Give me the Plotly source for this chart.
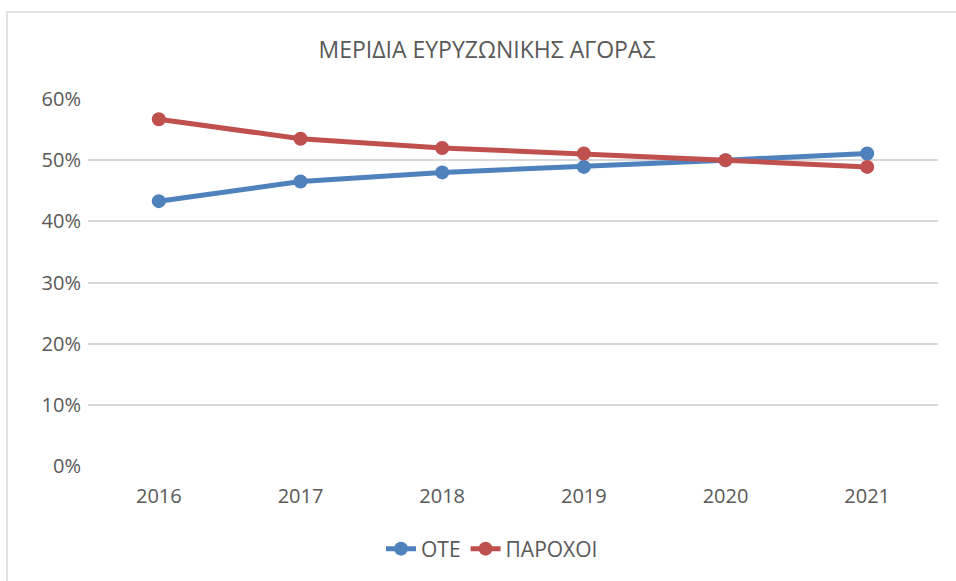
import plotly.graph_objects as go

years = ["2016", "2017", "2018", "2019", "2020", "2021"]
ote = [0.433, 0.465, 0.480, 0.489, 0.500, 0.511]
paroxoi = [0.567, 0.535, 0.520, 0.511, 0.500, 0.489]
y_ticks = [0, 0.1, 0.2, 0.3, 0.4, 0.5, 0.6]
y_tick_labels = ["0%", "10%", "20%", "30%", "40%", "50%", "60%"]

font_family = "Open Sans, DejaVu Sans, sans-serif"
text_color = "#595959"

fig = go.Figure()
fig.add_trace(go.Scatter(x=years, y=ote, name="ΟΤΕ", mode="lines+markers",
                         line=dict(color="#4F81BD", width=5),
                         marker=dict(color="#4F81BD", size=14)))
fig.add_trace(go.Scatter(x=years, y=paroxoi, name="ΠΑΡΟΧΟΙ", mode="lines+markers",
                         line=dict(color="#C0504D", width=5),
                         marker=dict(color="#C0504D", size=14)))

L, R, T, B = 88, 18, 99, 115
W, H = 956, 581
pw, ph = W - L - R, H - T - B

fig.update_layout(
    width=W, height=H,
    margin=dict(l=L, r=R, t=T, b=B),
    paper_bgcolor="white", plot_bgcolor="white",
    font=dict(family=font_family, color=text_color, size=20),
    title=dict(text="ΜΕΡΙΔΙΑ ΕΥΡΥΖΩΝΙΚΗΣ ΑΓΟΡΑΣ", x=487 / W, xanchor="center",
               y=1 - 50 / H, yanchor="middle",
               font=dict(size=23, color=text_color, family=font_family)),
    showlegend=True,
    legend=dict(orientation="h", x=(492 - L) / pw, xanchor="center",
                y=(H - B - 549) / ph, yanchor="middle",
                font=dict(size=21, color=text_color)),
    xaxis=dict(type="category", range=[-0.5, 5.5], showgrid=False, zeroline=False,
               showline=False, ticks="", tickfont=dict(size=20, color=text_color),
               ticklabelstandoff=16),
    yaxis=dict(range=[0, 0.6], tickvals=y_ticks, ticktext=y_tick_labels,
               showgrid=True, gridcolor="#D9D9D9", gridwidth=1.5, zeroline=False,
               showline=False, ticks="", tickfont=dict(size=20, color=text_color),
               ticklabelstandoff=6),
)

fig.add_shape(type="rect", xref="paper", yref="paper",
              x0=(7 - L) / pw, x1=(W + 10 - L) / pw,
              y0=(H - B - (H + 10)) / ph, y1=(H - B - 12) / ph,
              line=dict(color="#D9D9D9", width=1.5), fillcolor="rgba(0,0,0,0)", layer="below")

fig.write_html("out.html", config={"displayModeBar": False},
               post_script="document.body.style.margin='0';document.body.style.overflow='hidden';")
